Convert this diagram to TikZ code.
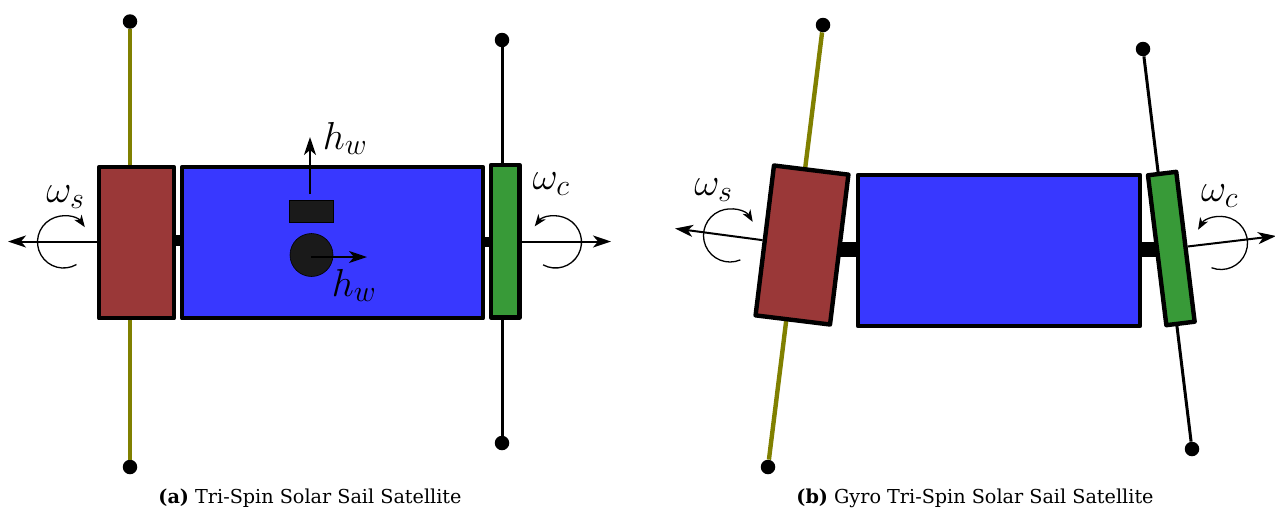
\RequirePackage{fix-cm}
\documentclass[tikz,border=0pt]{standalone}
\usepackage{fontspec}
\setmainfont{DejaVu Serif}
\usetikzlibrary{arrows.meta,calc}
\DeclareMathSizes{39}{39}{30}{22}
\definecolor{bodyblue}{HTML}{3838FF}
\definecolor{sailred}{HTML}{9A3838}
\definecolor{sailgreen}{HTML}{389A38}
\definecolor{polegold}{HTML}{808000}
\definecolor{wheel}{HTML}{1A1A1A}
\tikzset{
  box/.style={draw=black,line width=4.4pt,line join=round,inner sep=0pt,minimum height=151pt},
  dot/.style={circle,fill=black,inner sep=0pt,minimum size=14.5pt},
  pole/.style={line width=4.4pt,polegold},
  thinpole/.style={line width=3pt,black},
  shaft/.style={line width=11pt,black},
  axis/.style={line width=2pt,-{Stealth[length=18pt,width=12pt,inset=5pt]}},
  spin/.style={line width=1.3pt,-{Stealth[length=12pt,width=9pt,inset=3.5pt]}},
  lab/.style={inner sep=0pt,font=\fontsize{39}{41}\selectfont},
  captext/.style={inner sep=0pt,font=\fontsize{19.2}{23}\selectfont},
}
\begin{document}
\begin{tikzpicture}[x=1pt,y=-1pt]
\useasboundingbox (0,0) rectangle (1275,507);
% panel a
\node[dot] (d1) at (130,21.5) {};
\node[dot] (d2) at (130,467) {};
\node[dot] (d3) at (502,40) {};
\node[dot] (d4) at (502,443) {};
\draw[pole] (d1) -- (d2);
\draw[thinpole] (d3) -- (d4);
\node[box,fill=sailred,minimum width=75pt] (ra) at (136.5,242.7) {};
\node[box,fill=bodyblue,minimum width=301pt] (ba) at (332.5,242.7) {};
\node[box,fill=sailgreen,minimum width=28.5pt,minimum height=152.5pt] (ga) at (505.3,241.3) {};
\coordinate (sa1) at (178,240.5);
\coordinate (sa2) at (487,241.7);
\draw[shaft] (ra.east |- sa1) -- (ba.west |- sa1);
\draw[shaft,line width=10pt] (ba.east |- sa2) -- (ga.west |- sa2);
\node[draw=black,fill=wheel,line width=.6pt,minimum width=44pt,minimum height=22pt,inner sep=0pt] (wa) at (311,211) {};
\node[circle,draw=black,fill=wheel,line width=.6pt,minimum size=43pt,inner sep=0pt] (wb) at (311.5,255) {};
\coordinate (wu0) at (310,194);
\coordinate (wu1) at (310,137);
\coordinate (wr0) at (311,257);
\coordinate (wr1) at (367,257);
\draw[axis] (wu0) -- (wu1);
\draw[axis] (wr0) -- (wr1);
\coordinate (al) at (8,241.5);
\coordinate (ar) at (611,241.5);
\coordinate (cl) at (99,241.5);
\coordinate (cr) at (519,241.5);
\draw[axis] (cl) -- (al);
\draw[axis] (cr) -- (ar);
\coordinate (c1) at (63.5,242);
\coordinate (c2) at (555.5,242);
\path (c1) ++(-60:26pt) coordinate (c1s);
\path (c2) ++(-118.5:26pt) coordinate (c2s);
\draw[spin] (c1s) arc[start angle=-60,end angle=-325,radius=26pt];
\draw[spin] (c2s) arc[start angle=-118.5,end angle=143,radius=26pt];
\node[lab] (lhw1) at (345,138.5) {$h_w$};
\node[lab] (lhw2) at (354,285.5) {$h_w$};
\node[lab] (lws1) at (65.5,197) {$\omega_s$};
\node[lab] (lwc1) at (551,184) {$\omega_c$};
\node[captext] (capa) at (310,498) {\textbf{(a)} Tri-Spin Solar Sail Satellite};
% panel b
\node[dot] (e1) at (823,25) {};
\node[dot] (e2) at (768,467) {};
\node[dot] (e3) at (1143,49) {};
\node[dot] (e4) at (1192,449) {};
\draw[pole] (e1) -- (e2);
\draw[thinpole] (e3) -- (e4);
\coordinate (sb1) at (835,249.5);
\coordinate (sb2) at (1158,249.5);
\node[box,fill=bodyblue,minimum width=282pt] (bb) at (999,250.5) {};
\draw[shaft,line width=15pt] (bb.west |- sb1) -- (sb1);
\draw[shaft,line width=15pt] (bb.east |- sb2) -- (sb2);
\node[box,fill=sailred,minimum width=75pt,rotate=-7] (rb) at (802,245) {};
\node[box,fill=sailgreen,minimum width=28.5pt,rotate=7] (gb) at (1171.3,248.5) {};
\coordinate (bl) at (675,228.5);
\coordinate (br) at (1276,236);
\draw[axis] (rb.west) -- (bl);
\draw[axis] (gb.east) -- (br);
\coordinate (c3) at (730,235.5);
\coordinate (c4) at (1221,243);
\path (c3) ++(-67:26.5pt) coordinate (c3s);
\path (c4) ++(-111:26.5pt) coordinate (c4s);
\draw[spin] (c3s) arc[start angle=-67,end angle=-329,radius=26.5pt];
\draw[spin] (c4s) arc[start angle=-111,end angle=150,radius=26.5pt];
\node[lab] (lws2) at (713.5,190) {$\omega_s$};
\node[lab] (lwc2) at (1219.5,196) {$\omega_c$};
\node[captext] (capb) at (975,498) {\textbf{(b)} Gyro Tri-Spin Solar Sail Satellite};
\end{tikzpicture}
\end{document}
